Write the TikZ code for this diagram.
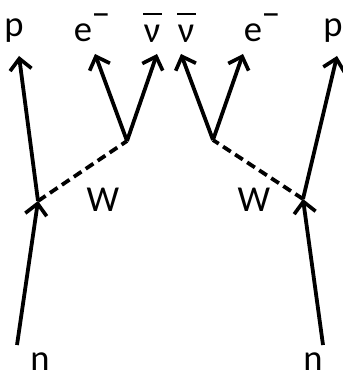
\documentclass[tikz,border=0pt]{standalone}
\usepackage{fontspec}
\setmainfont{Carlito}
\usetikzlibrary{arrows.meta}
\newcommand\nubar{\leavevmode\rlap{\hspace{-0.02em}\raisebox{0.74em}{\rule{0.52em}{0.07em}}}ν}
\newcommand\eminus{e\raisebox{0.42em}{−}}
\begin{document}
\begin{tikzpicture}[>={Straight Barb[length=2.8mm,width=5.4mm,line width=2.6pt]},line width=2.7pt,
  lbl/.style={font=\fontsize{26}{30}\selectfont,inner sep=0pt},
  wline/.style={dash pattern=on 2.3mm off 1.3mm}]
\useasboundingbox (0,0) rectangle (8.55,9.45);
% left decay
\coordinate (nL) at (0.425,0.825);
\coordinate (vL) at (0.95,4.425);
\coordinate (pL) at (0.475,8.05);
\coordinate (wL) at (3.175,5.925);
\coordinate (eL) at (2.375,8.1);
\coordinate (nuL) at (3.925,8.1);
\draw[->] (nL)--(vL);
\draw[->] (vL)--(pL);
\draw[wline] (vL)--(wL);
\draw[->] (wL)--(eL);
\draw[->] (wL)--(nuL);
\node[lbl] (pLlbl) at (0.35,8.68) {p};
\node[lbl] (eLlbl) at (2.3,8.76) {\eminus};
\node[lbl] (nuLlbl) at (3.8,8.76) {\nubar};
\node[lbl] (wLlbl) at (2.575,4.45) {W};
\node[lbl] (nLlbl) at (1.0,0.4) {n};

% right decay
\coordinate (nR) at (8.075,0.825);
\coordinate (vR) at (7.575,4.475);
\coordinate (pR) at (8.425,8.05);
\coordinate (wR) at (5.325,5.95);
\coordinate (nuR) at (4.525,8.1);
\coordinate (eR) at (6.075,8.1);
\draw[->] (nR)--(vR);
\draw[->] (vR)--(pR);
\draw[wline] (vR)--(wR);
\draw[->] (wR)--(nuR);
\draw[->] (wR)--(eR);
\node[lbl] (nuRlbl) at (4.65,8.76) {\nubar};
\node[lbl] (eRlbl) at (6.55,8.76) {\eminus};
\node[lbl] (pRlbl) at (8.325,8.68) {p};
\node[lbl] (wRlbl) at (6.35,4.45) {W};
\node[lbl] (nRlbl) at (7.825,0.4) {n};
\end{tikzpicture}
\end{document}
